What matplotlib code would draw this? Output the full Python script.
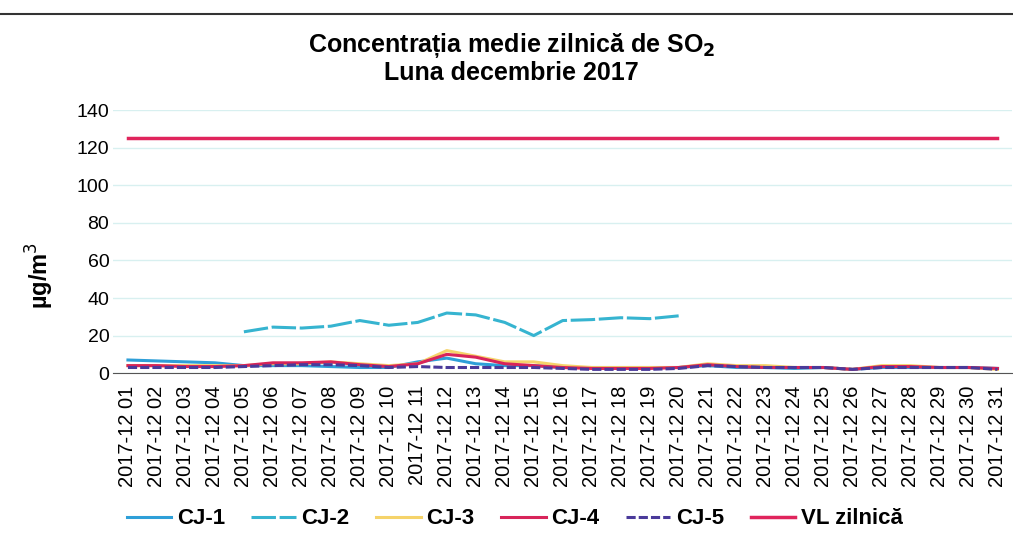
import matplotlib
matplotlib.use("Agg")
import matplotlib.pyplot as plt
import numpy as np

plt.rcParams['font.family'] = ['Liberation Sans', 'DejaVu Sans']

days = [f"2017-12 {d:02d}" for d in range(1, 32)]
nan = np.nan
cj1 = [7, 6.5, 6, 5.5, 4, 4, 4, 3.5, 3, 3, 6, 8, 5, 4, 4, 3, 3, 3, 3, 3, 4, 3, 3, 2.5, 3, 2, 3, 3, 3, 3, 2.5]
cj2 = [nan, nan, nan, nan, 22, 24.5, 24, 25, 28, 25.5, 27, 32, 31, 27, 20, 28, 28.5, 29.5, 29, 30.5,
       nan, nan, nan, nan, nan, nan, nan, nan, nan, nan, nan]
cj3 = [4, 4, 4, 4, 4, 5, 5, 6, 5, 4, 5, 12, 9, 6, 6, 4, 3, 3, 3, 3, 5, 4, 4, 3, 3, 2, 4, 4, 3, 3, 2]
cj4 = [4, 4, 3.5, 3.5, 4, 5.5, 5.5, 6, 4.5, 3.5, 5, 10, 8.5, 5, 4, 3, 2.5, 2.5, 2.5, 3, 4.5, 3.5, 3, 3, 3, 2, 3.5, 3.5, 3, 3, 2.5]
cj5 = [3, 3, 3, 3, 3.5, 4, 4.5, 4.5, 4, 3, 3.5, 3, 3, 3, 3, 2.5, 2, 2, 2, 2.5, 4, 3.5, 3, 3, 3, 2, 3, 3, 3, 3, 2]
vl = [125] * 31

fig = plt.figure(figsize=(10.13, 5.4), dpi=100)
ax = fig.add_axes([0.112, 0.309, 0.887, 0.487])
x = np.arange(len(days))

ax.plot(x, cj1, color='#2e9fd8', lw=2.2, label='CJ-1', zorder=3)
ax.plot(x, cj2, color='#36b4d0', lw=2.2, ls=(0, (8, 1.2)), label='CJ-2', zorder=3)
ax.plot(x, cj3, color='#f5d36a', lw=2.2, label='CJ-3', zorder=3)
ax.plot(x, cj4, color='#d8245a', lw=2.2, label='CJ-4', zorder=4)
ax.plot(x, cj5, color='#4a3a9a', lw=2.2, ls=(0, (3, 1)), label='CJ-5', zorder=5)
ax.plot(x, vl, color='#e0245c', lw=2.5, label='VL zilnică', zorder=3)

ax.set_xlim(-0.5, len(days) - 0.5)
ax.set_ylim(0, 140)
ax.set_yticks(range(0, 141, 20))
ax.set_xticks(x)
ax.set_xticklabels(days, rotation=90, fontsize=14.5)
ax.tick_params(axis='y', labelsize=14, length=0, pad=3)
ax.tick_params(axis='x', length=0, pad=9)
ax.grid(axis='y', color='#d8f0f0', lw=1)
for s in ['top', 'right', 'left']:
    ax.spines[s].set_visible(False)
ax.spines['bottom'].set_color('#555555')
ax.set_ylabel('µg/m$^3$', fontsize=17, fontweight='bold')
ax.yaxis.set_label_coords(-0.064, 0.37)

fig.text(0.505, 0.915, 'Concentrația medie zilnică de SO$_\\mathbf{2}$', ha='center', va='center',
         fontsize=18, fontweight='bold')
fig.text(0.505, 0.865, 'Luna decembrie 2017', ha='center', va='center', fontsize=18, fontweight='bold')

fig.legend(loc='center', bbox_to_anchor=(0.508, 0.039), ncol=6, frameon=False,
           prop={'size': 16, 'weight': 'bold'}, handlelength=2.0, columnspacing=1.2, handletextpad=0.25)

fig.add_artist(plt.Line2D([0.0, 1.0], [0.975, 0.975], color='#333333', lw=1.5))

fig.savefig('out.png', dpi=100)
